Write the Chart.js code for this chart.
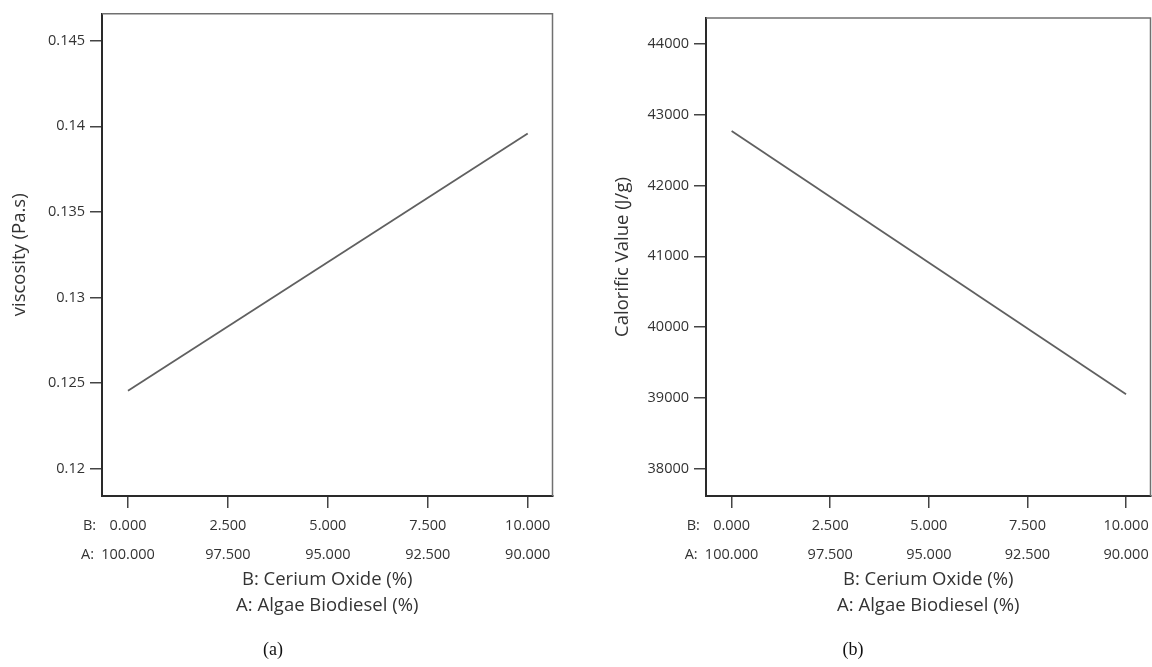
<!DOCTYPE html>
<html>
<head>
<meta charset="utf-8">
<script src="https://cdn.jsdelivr.net/npm/chart.js@4/dist/chart.umd.min.js"></script>
<style>
  html, body { margin: 0; padding: 0; background: #fff; width: 1152px; height: 667px; overflow: hidden; }
  .box { position: absolute; top: 0; height: 667px; width: 576px; }
  .cap { position: absolute; top: 639px; font-family: "Liberation Serif", "DejaVu Serif", serif; font-size: 18px; color: #111; transform: translateX(-50%); }
</style>
</head>
<body>
<div class="box" style="left:0"><canvas id="c1"></canvas></div>
<div class="box" style="left:576px"><canvas id="c2"></canvas></div>
<div class="cap" style="left:273px">(a)</div>
<div class="cap" style="left:853px">(b)</div>
<script>
// ---- data ----
const ceriumOxide = [0, 10];                 // B: Cerium Oxide (%)
const viscosity = [0.12455, 0.13958];        // Pa.s
const calorific = [42770, 39051];            // J/g

const xTicks = [0, 2.5, 5, 7.5, 10];
const bTickLabels = ["0.000", "2.500", "5.000", "7.500", "10.000"];
const aTickLabels = ["100.000", "97.500", "95.000", "92.500", "90.000"];

const viscTicks = [0.12, 0.125, 0.13, 0.135, 0.14, 0.145];
const viscTickLabels = ["0.12", "0.125", "0.13", "0.135", "0.14", "0.145"];
const calTicks = [38000, 39000, 40000, 41000, 42000, 43000, 44000];
const calTickLabels = ["38000", "39000", "40000", "41000", "42000", "43000", "44000"];

const xTitle = ["B: Cerium Oxide (%)", "A: Algae Biodiesel (%)"];

// ---- styling ----
const FONT = "'Open Sans', 'Noto Sans', sans-serif";
const TXT = "#333";

const framePlugin = {
  id: 'frame',
  afterDraw(chart) {
    const {ctx, chartArea: a} = chart;
    ctx.save();
    ctx.strokeStyle = '#707070';
    ctx.lineWidth = 1.5;
    ctx.beginPath();
    ctx.moveTo(a.left, a.top);
    ctx.lineTo(a.right, a.top);
    ctx.lineTo(a.right, a.bottom);
    ctx.stroke();
    // B:/A: prefixes
    const xs = chart.scales.x;
    const x0 = xs.getPixelForValue(xTicks[0]) - 46;
    ctx.fillStyle = TXT;
    ctx.font = "14.5px " + FONT;
    ctx.textAlign = 'left';
    ctx.textBaseline = 'middle';
    ctx.fillText('B:', x0 + 1, a.bottom + 30);
    ctx.fillText('A:', x0 - 1, a.bottom + 59);
    ctx.restore();
  }
};

function makeChart(id, yVals, yMin, yMax, yTicks, yLabels, yTitle, yWidth, yTitlePad, pad) {
  return new Chart(document.getElementById(id), {
    type: 'line',
    data: {
      datasets: [{
        data: ceriumOxide.map((x, i) => ({x: x, y: yVals[i]})),
        borderColor: '#606060',
        borderWidth: 1.8,
        pointRadius: 0,
        fill: false,
        tension: 0
      }]
    },
    options: {
      responsive: true,
      maintainAspectRatio: false,
      animation: false,
      devicePixelRatio: 1,
      layout: { padding: pad },
      plugins: { legend: { display: false }, tooltip: { enabled: false } },
      scales: {
        x: {
          type: 'linear',
          min: -0.65, max: 10.62,
          afterFit(s) { s.height = 123; },
          afterBuildTicks(s) { s.ticks = xTicks.map(v => ({value: v})); },
          grid: { display: true, drawOnChartArea: false, drawTicks: true, tickLength: 12, color: '#444', lineWidth: 1.5 },
          border: { display: true, color: '#2a2a2a', width: 2 },
          ticks: {
            autoSkip: false, maxRotation: 0, padding: 3,
            color: TXT,
            font: { family: FONT, size: 14.5, lineHeight: 29 / 14.5 },
            callback: (v, i) => [bTickLabels[i], aTickLabels[i]]
          },
          title: {
            display: true, text: xTitle, color: TXT,
            font: { family: FONT, size: 18.5, lineHeight: 26 / 18.5 },
            padding: { top: 0, bottom: 0 }
          }
        },
        y: {
          type: 'linear',
          min: yMin, max: yMax,
          afterFit(s) { s.width = yWidth; },
          afterBuildTicks(s) { s.ticks = yTicks.map(v => ({value: v})); },
          grid: { display: true, drawOnChartArea: false, drawTicks: true, tickLength: 12, color: '#444', lineWidth: 1.5 },
          border: { display: true, color: '#2a2a2a', width: 2 },
          ticks: {
            padding: 5, color: TXT,
            font: { family: FONT, size: 14.5 },
            callback: (v, i) => yLabels[i]
          },
          title: {
            display: true, text: yTitle, color: TXT,
            font: { family: FONT, size: 18.5, lineHeight: 1.2 },
            padding: { top: yTitlePad, bottom: 0 }
          }
        }
      }
    },
    plugins: [framePlugin]
  });
}

makeChart('c1', viscosity, 0.1184, 0.14658, viscTicks, viscTickLabels, 'viscosity (Pa.s)', 102, 9,
  { left: 0, right: 23.5, top: 11, bottom: 48 });
makeChart('c2', calorific, 37613, 44367, calTicks, calTickLabels, 'Calorific Value (J/g)', 130, 36,
  { left: 0, right: 1.5, top: 18, bottom: 48 });
</script>
</body>
</html>
